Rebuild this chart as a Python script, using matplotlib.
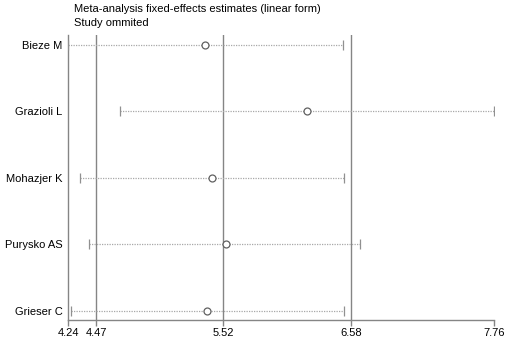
import matplotlib
matplotlib.use("Agg")
import matplotlib.pyplot as plt

studies = ["Bieze M", "Grazioli L", "Mohazjer K", "Purysko AS", "Grieser C"]
estimate = [5.37, 6.21, 5.43, 5.54, 5.39]
lower = [4.24, 4.67, 4.34, 4.41, 4.26]
upper = [6.51, 7.76, 6.52, 6.65, 6.52]
overall = [4.47, 5.52, 6.58]
xticks = [4.24, 4.47, 5.52, 6.58, 7.76]
xticklabels = ["4.24", "4.47", "5.52", "6.58", "7.76"]
title_lines = ["Meta-analysis fixed-effects estimates (linear form)", "Study ommited"]

plt.rcParams['font.family'] = ['Liberation Sans', 'DejaVu Sans']

fig = plt.figure(figsize=(5.12, 3.44), dpi=100)
ax = fig.add_axes([0.1334, 0.0698, 0.965 - 0.1334, 0.898 - 0.0698])

ypos = list(range(len(studies)))
for y, lo, hi, est in zip(ypos, lower, upper, estimate):
    ax.plot([lo, hi], [y, y], linestyle=(0, (1, 1)), color="#a8a8a8", lw=0.9, zorder=2)
    ax.plot([lo, hi], [y, y], linestyle="none", marker="|", markersize=7,
            color="#909090", mew=0.9, zorder=3)
    ax.plot([est], [y], linestyle="none", marker="o", markersize=5,
            mfc="white", mec="#606060", mew=0.9, zorder=4)

for v in overall:
    ax.axvline(v, color="#858585", lw=1.0, zorder=1)

ax.set_xlim(xticks[0], xticks[-1])
ax.set_ylim(4.14, -0.15)
ax.set_yticks(ypos)
ax.set_yticklabels(studies, fontsize=8)
ax.set_xticks(xticks)
ax.set_xticklabels(xticklabels, fontsize=8)
ax.tick_params(axis="y", length=0, pad=4)
ax.tick_params(axis="x", length=4, color="#858585", width=1.0, pad=2)

for s in ["top", "right"]:
    ax.spines[s].set_visible(False)
for s in ["left", "bottom"]:
    ax.spines[s].set_color("#858585")
    ax.spines[s].set_linewidth(1.0)

fig.text(0.145, 0.974, title_lines[0], fontsize=8, va="center", ha="left")
fig.text(0.145, 0.933, title_lines[1], fontsize=8, va="center", ha="left")

fig.savefig("out.png", dpi=100)
